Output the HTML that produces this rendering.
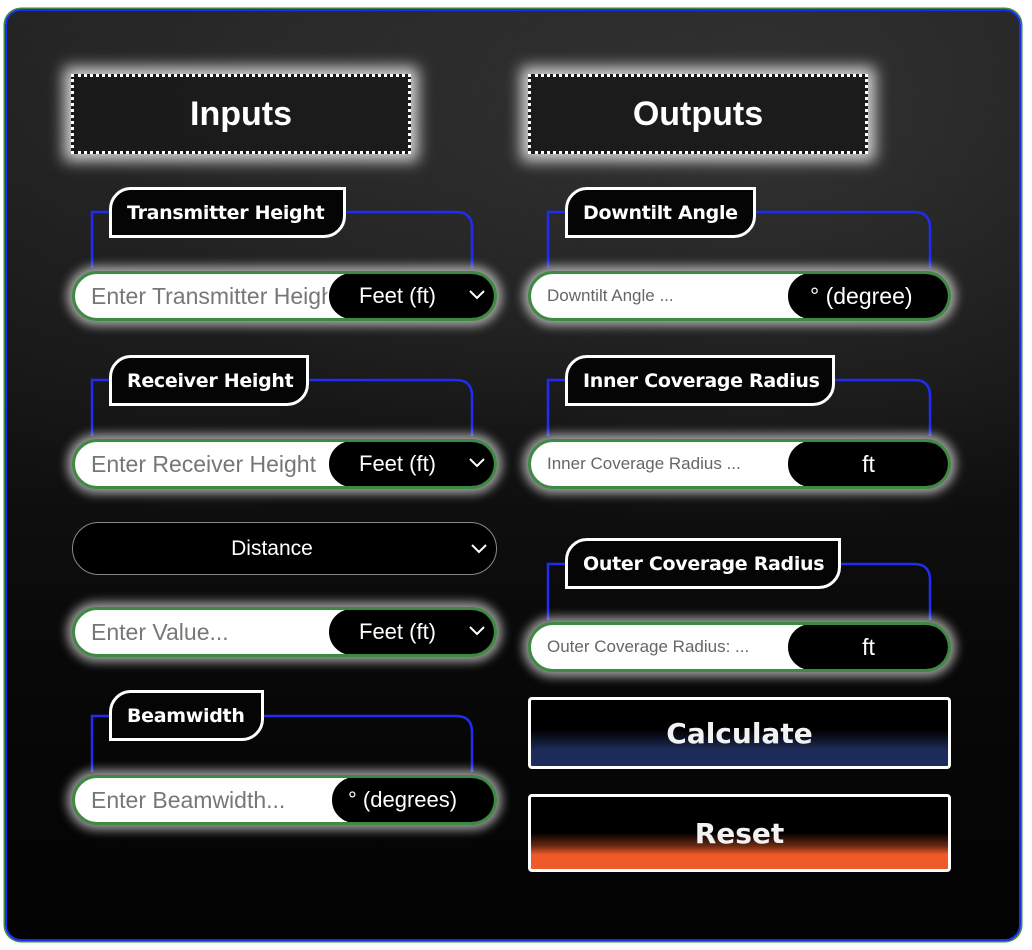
<!DOCTYPE html>
<html><head><meta charset="utf-8"><style>
*{box-sizing:border-box;margin:0;padding:0}
body{width:1032px;height:950px;background:#fff;position:relative;overflow:hidden;font-family:"Liberation Sans",sans-serif}
.frame{position:absolute;left:5px;top:9px;width:1016px;height:932px;border-radius:16px;border:2px solid #1a2cf0;box-shadow:0 0 0 1.5px #3e8a3a;overflow:hidden;
background:
radial-gradient(ellipse 600px 400px at 750px 120px,rgba(80,80,80,.45),rgba(0,0,0,0) 100%),
radial-gradient(ellipse 500px 400px at 200px 100px,rgba(60,60,60,.4),rgba(0,0,0,0) 100%),
linear-gradient(180deg,#1e1e1e 0%,#141414 40%,#080808 70%,#030303 100%)}
.abs{position:absolute}
.hdr{position:absolute;width:340px;height:80px;border:3px dotted #fff;background:rgba(25,25,25,.9);color:#fff;font-weight:bold;font-size:34px;display:flex;align-items:center;justify-content:center;box-shadow:0 0 14px 7px rgba(255,255,255,.8)}
.tab{position:absolute;height:51px;border:3px solid #fff;border-radius:22px 0 22px 0;background:#050505;color:#fff;font-weight:bold;font-size:19px;display:flex;align-items:center;padding-left:15px;white-space:nowrap;font-family:"DejaVu Sans","Liberation Sans",sans-serif;letter-spacing:-.3px}
.inp{position:absolute;height:50px;border-radius:25px;background:#fff;border:3px solid #3f8a43;box-shadow:0 0 10px 5px rgba(255,255,255,.6);overflow:hidden}
.inp .ph{position:absolute;left:16px;top:0;line-height:44px;color:#777;font-size:23px;white-space:nowrap}
.inp .ph.s{font-size:17px;color:#666}
.dd{position:absolute;top:-3px;bottom:-3px;right:-3px;background:#000;border-radius:25px;border:2px solid #fff;color:#fff;font-size:22px;display:flex;align-items:center}
.chev{position:absolute;right:10px;top:17px}
.btn{position:absolute;left:528px;width:423px;border:3px solid #fff;border-radius:4px;color:#f2f2f2;font-weight:bold;font-size:28px;display:flex;align-items:center;justify-content:center;font-family:"DejaVu Sans","Liberation Sans",sans-serif}
</style></head><body>
<div class="frame"></div>

<svg class="abs" style="left:0;top:0" width="1032" height="950">
<g fill="none" stroke="#1f2cf2" stroke-width="2.5">
<path d="M110 212H92V268"/><path d="M345 212H456Q472 212 472 228V268"/>
<path d="M110 380H92V436"/><path d="M308 380H456Q472 380 472 396V436"/>
<path d="M110 716H92V772"/><path d="M263 716H456Q472 716 472 732V772"/>
<path d="M566 212H548V268"/><path d="M755 212H914Q930 212 930 228V268"/>
<path d="M566 380H548V436"/><path d="M834 380H914Q930 380 930 396V436"/>
<path d="M566 564H548V620"/><path d="M840 564H914Q930 564 930 580V620"/>
</g></svg>

<div class="hdr" style="left:71px;top:74px">Inputs</div>
<div class="hdr" style="left:528px;top:74px">Outputs</div>

<div class="tab" style="left:109px;top:187px;width:237px">Transmitter Height</div>
<div class="inp" style="left:72px;top:271px;width:425px"><div class="ph">Enter Transmitter Height</div><div class="dd" style="width:170px;padding-left:30px">Feet (ft)<svg class="chev" width="16" height="10"><path d="M1 1L8 8L15 1" fill="none" stroke="#fff" stroke-width="2"/></svg></div></div>

<div class="tab" style="left:109px;top:355px;width:200px">Receiver Height</div>
<div class="inp" style="left:72px;top:439px;width:425px"><div class="ph">Enter Receiver Height</div><div class="dd" style="width:170px;padding-left:30px">Feet (ft)<svg class="chev" width="16" height="10"><path d="M1 1L8 8L15 1" fill="none" stroke="#fff" stroke-width="2"/></svg></div></div>

<div class="abs" style="left:72px;top:522px;width:425px;height:53px;border-radius:27px;background:#000;border:1.5px solid #888;color:#fff;font-size:21px;display:flex;align-items:center;justify-content:center;padding-right:25px">Distance<svg style="position:absolute;right:9px;top:21px" width="16" height="10"><path d="M1 1L8 8L15 1" fill="none" stroke="#fff" stroke-width="2"/></svg></div>

<div class="inp" style="left:72px;top:607px;width:425px"><div class="ph">Enter Value...</div><div class="dd" style="width:170px;padding-left:30px">Feet (ft)<svg class="chev" width="16" height="10"><path d="M1 1L8 8L15 1" fill="none" stroke="#fff" stroke-width="2"/></svg></div></div>

<div class="tab" style="left:109px;top:690px;width:155px">Beamwidth</div>
<div class="inp" style="left:72px;top:775px;width:425px"><div class="ph">Enter Beamwidth...</div><div class="dd" style="width:167px;padding-left:16px">° (degrees)</div></div>

<div class="tab" style="left:565px;top:187px;width:191px">Downtilt Angle</div>
<div class="inp" style="left:528px;top:271px;width:423px"><div class="ph s">Downtilt Angle ...</div><div class="dd" style="width:165px;padding-left:22px;font-size:23px">° (degree)</div></div>

<div class="tab" style="left:565px;top:355px;width:270px">Inner Coverage Radius</div>
<div class="inp" style="left:528px;top:439px;width:423px"><div class="ph s">Inner Coverage Radius ...</div><div class="dd" style="width:165px;justify-content:center;font-size:23px">ft</div></div>

<div class="tab" style="left:565px;top:538px;width:276px">Outer Coverage Radius</div>
<div class="inp" style="left:528px;top:622px;width:423px"><div class="ph s">Outer Coverage Radius: ...</div><div class="dd" style="width:165px;justify-content:center;font-size:23px">ft</div></div>

<div class="btn" style="top:697px;height:72px;background:linear-gradient(#000 0%,#000 45%,#1c2b57 75%,#1e2d5a 100%)">Calculate</div>
<div class="btn" style="top:794px;height:78px;background:linear-gradient(#000 0%,#000 50%,#6b2a12 68%,#ee5a29 80%,#ee5a29 100%)">Reset</div>
</body></html>
